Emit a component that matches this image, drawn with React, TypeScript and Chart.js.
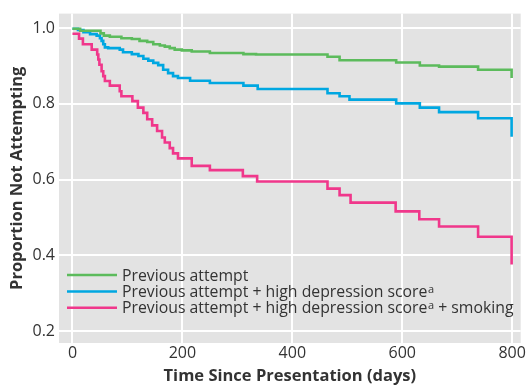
import { useEffect, useRef } from 'react';
import { Chart, registerables } from 'chart.js';

Chart.register(...registerables);

// Kaplan-Meier step data (days since presentation, proportion not attempting)
const greenDays = [0, 14, 51, 57, 68, 89, 108, 122, 136, 147, 159, 168, 177, 186, 199, 217, 250, 311, 334, 464, 486, 589, 632, 667, 738, 799];
const greenValues = [0.998, 0.993, 0.986, 0.98, 0.977, 0.973, 0.971, 0.966, 0.963, 0.957, 0.954, 0.951, 0.947, 0.943, 0.941, 0.938, 0.934, 0.931, 0.93, 0.924, 0.915, 0.909, 0.901, 0.898, 0.89, 0.868];

const blueDays = [0, 10, 20, 32, 44, 50, 53, 56, 59, 65, 86, 92, 108, 120, 129, 138, 147, 156, 165, 174, 183, 192, 214, 250, 311, 337, 464, 486, 504, 589, 632, 667, 738, 799];
const blueValues = [0.998, 0.995, 0.989, 0.984, 0.98, 0.973, 0.966, 0.957, 0.949, 0.947, 0.943, 0.936, 0.931, 0.926, 0.919, 0.914, 0.908, 0.902, 0.89, 0.881, 0.873, 0.868, 0.861, 0.855, 0.848, 0.839, 0.828, 0.82, 0.811, 0.801, 0.79, 0.778, 0.762, 0.713];

const pinkDays = [0, 12, 19, 35, 45, 47, 49, 53, 56, 59, 68, 86, 89, 109, 119, 129, 136, 145, 154, 163, 168, 177, 183, 192, 217, 250, 310, 336, 464, 486, 506, 588, 631, 667, 738, 799];
const pinkValues = [0.985, 0.972, 0.957, 0.943, 0.93, 0.917, 0.903, 0.886, 0.873, 0.86, 0.848, 0.833, 0.82, 0.807, 0.79, 0.776, 0.759, 0.743, 0.728, 0.711, 0.698, 0.683, 0.669, 0.656, 0.636, 0.625, 0.609, 0.595, 0.576, 0.559, 0.539, 0.516, 0.495, 0.476, 0.449, 0.376];

const xTicks = [0, 200, 400, 600, 800];
const yTicks = [0.2, 0.4, 0.6, 0.8, 1.0];

const legendMain = ['Previous attempt', 'Previous attempt + high depression score', 'Previous attempt + high depression score'];
const legendSup = ['', 'a', 'a'];
const legendTail = ['', '', ' + smoking'];

const seriesColors = ['#5cbb5c', '#00a7e1', '#f0378b'];

const xTitle = 'Time Since Presentation (days)';
const yTitle = 'Proportion Not Attempting';

const FONT = '"Open Sans", "Noto Sans", sans-serif';
const TEXT = '#333333';

const bgPlugin = {
  id: 'plotBg',
  beforeDraw(chart: any) {
    const { ctx, chartArea: a } = chart;
    ctx.save();
    ctx.fillStyle = '#e3e3e3';
    ctx.fillRect(a.left, a.top, a.right - a.left, a.bottom - a.top);
    ctx.restore();
  },
};

const legendPlugin = {
  id: 'kmLegend',
  afterDatasetsDraw(chart: any) {
    const { ctx, chartArea: a } = chart;
    const x0 = a.left + 8;
    const x1 = a.left + 58;
    const tx = a.left + 63;
    const rowStart = a.bottom - 68;
    const rowGap = 16.4;
    ctx.save();
    legendMain.forEach((main, i) => {
      const y = rowStart + i * rowGap;
      ctx.strokeStyle = seriesColors[i];
      ctx.lineWidth = 2.5;
      ctx.beginPath();
      ctx.moveTo(x0, y);
      ctx.lineTo(x1, y);
      ctx.stroke();
      ctx.fillStyle = TEXT;
      ctx.textBaseline = 'alphabetic';
      ctx.textAlign = 'left';
      ctx.font = `15.8px ${FONT}`;
      const base = y + 5.5;
      let cx = tx;
      ctx.fillText(main, cx, base);
      cx += ctx.measureText(main).width;
      if (legendSup[i]) {
        ctx.font = `11px ${FONT}`;
        ctx.fillText(legendSup[i], cx + 0.5, base - 4);
        cx += ctx.measureText(legendSup[i]).width + 0.5;
      }
      if (legendTail[i]) {
        ctx.font = `15.8px ${FONT}`;
        ctx.fillText(legendTail[i], cx, base);
      }
    });
    ctx.restore();
  },
};

function buildDataset(label: string, days: number[], values: number[], color: string) {
  return {
    label,
    data: days.map((d, i) => ({ x: d, y: values[i] })),
    borderColor: color,
    backgroundColor: color,
    borderWidth: 2.6,
    pointRadius: 0,
    stepped: true as const,
    fill: false,
  };
}

export default function App() {
  const ref = useRef<HTMLCanvasElement | null>(null);
  useEffect(() => {
    if (!ref.current) return;
    const labels = legendMain.map((m, i) => m + (legendSup[i] ? 'ª' : '') + legendTail[i]);
    const chart = new Chart(ref.current, {
      type: 'line',
      data: {
        datasets: [
          buildDataset(labels[0], greenDays, greenValues, seriesColors[0]),
          buildDataset(labels[1], blueDays, blueValues, seriesColors[1]),
          buildDataset(labels[2], pinkDays, pinkValues, seriesColors[2]),
        ],
      },
      options: {
        animation: false,
        responsive: false,
        maintainAspectRatio: false,
        layout: { padding: { top: 12, right: 6, left: 0, bottom: 0 } },
        plugins: { legend: { display: false }, tooltip: { enabled: false } },
        scales: {
          x: {
            type: 'linear',
            min: -24.5,
            max: 815.5,
            afterBuildTicks(scale: any) {
              scale.ticks = xTicks.map((v) => ({ value: v }));
            },
            afterFit(scale: any) {
              scale.height = 43;
            },
            grid: { color: '#ffffff', lineWidth: 2, drawTicks: false },
            border: { display: false },
            ticks: { color: TEXT, font: { family: FONT, size: 16 }, padding: 1, maxRotation: 0 },
            title: { display: true, text: xTitle, color: TEXT, font: { family: FONT, size: 16.5, weight: 'bold' }, padding: { top: 0, bottom: 0 } },
          },
          y: {
            type: 'linear',
            min: 0.1685,
            max: 1.0381,
            afterBuildTicks(scale: any) {
              scale.ticks = yTicks.map((v) => ({ value: v }));
            },
            afterFit(scale: any) {
              scale.width = 59;
            },
            grid: { color: '#ffffff', lineWidth: 2, drawTicks: false },
            border: { display: false },
            ticks: { color: TEXT, font: { family: FONT, size: 16 }, padding: 4, callback: (v: any) => Number(v).toFixed(1) },
            title: { display: true, text: yTitle, color: TEXT, font: { family: FONT, size: 16.5, weight: 'bold' }, padding: { top: 7, bottom: 0 } },
          },
        },
      },
      plugins: [bgPlugin, legendPlugin],
    });
    return () => chart.destroy();
  }, []);
  return (
    <div style={{ position: 'fixed', left: 0, top: 0, width: 527, height: 386 }}>
      <canvas ref={ref} width={527} height={386} style={{ width: 527, height: 386 }} />
    </div>
  );
}
